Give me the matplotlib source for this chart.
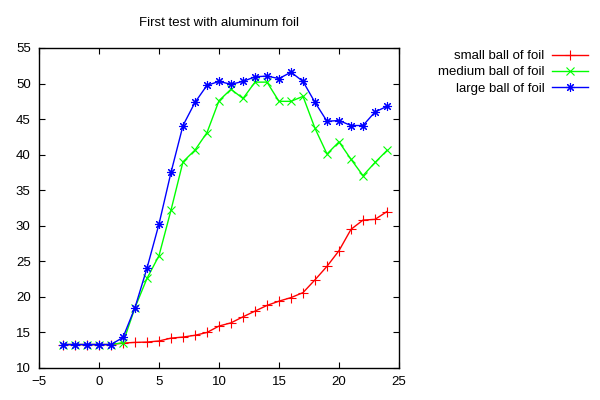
import matplotlib
matplotlib.use("Agg")
import matplotlib.pyplot as plt

plt.rcParams['font.family'] = ['Liberation Sans', 'DejaVu Sans']

x = list(range(-3, 25))
small = [13.3, 13.3, 13.3, 13.3, 13.3, 13.5, 13.6, 13.65, 13.8, 14.2, 14.35, 14.6, 15.0,
         15.9, 16.35, 17.2, 18.0, 18.8, 19.4, 19.9, 20.6, 22.4, 24.3, 26.5, 29.5, 30.8, 30.9, 32.0]
medium = [13.3, 13.3, 13.3, 13.3, 13.3, 13.55, 18.5, 22.6, 25.8, 32.2, 39.0, 40.65, 43.1,
          47.6, 49.2, 47.9, 50.2, 50.2, 47.5, 47.5, 48.2, 43.7, 40.1, 41.8, 39.35, 37.05, 38.9, 40.6]
large = [13.3, 13.3, 13.3, 13.3, 13.3, 14.3, 18.5, 24.05, 30.25, 37.5, 44.1, 47.35, 49.75,
         50.3, 49.9, 50.3, 50.95, 51.05, 50.7, 51.6, 50.3, 47.35, 44.7, 44.8, 44.1, 44.1, 46.0, 46.8]
labels = ["small ball of foil", "medium ball of foil", "large ball of foil"]
title = "First test with aluminum foil"

fig = plt.figure(figsize=(6, 4), dpi=100)
ax = fig.add_axes([39/600, 32/400, 360/600, 320/400])

ax.plot(x, small, color='#ff0000', lw=1, marker='+', ms=6.5, mew=0.8, label=labels[0])
ax.plot(x, medium, color='#00ff00', lw=1, marker='x', ms=5.5, mew=0.8, label=labels[1])
ax.plot(x, large, color='#0000ff', lw=1, marker=(8, 2, 0), ms=6.5, mew=0.8, label=labels[2])

ax.set_xlim(-5, 25)
ax.set_ylim(10, 55)
ax.set_xticks(range(-5, 26, 5))
ax.set_yticks(range(10, 56, 5))
ax.tick_params(direction='in', top=True, right=True, length=4.5, width=0.8,
               labelsize=9.5, pad=6)
for s in ax.spines.values():
    s.set_linewidth(1)

ax.text(0.5, 1.0 + 25/320, title, transform=ax.transAxes, ha='center', va='center', fontsize=9.5)

fig.legend(loc='upper right', bbox_to_anchor=(588/600, 1 - 50/400), frameon=False,
           markerfirst=False, fontsize=9.5, handlelength=2.7, handletextpad=0.6,
           labelspacing=0.3, borderpad=0, borderaxespad=0)

fig.savefig("out.png", dpi=100)
